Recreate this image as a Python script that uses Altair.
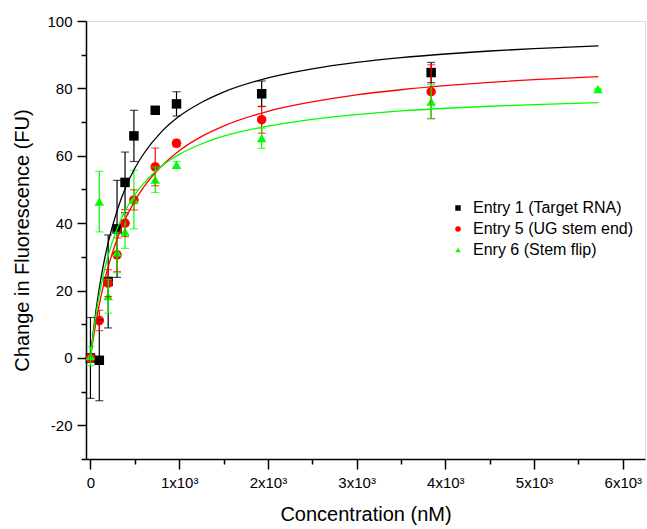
import altair as alt
import pandas as pd

# ---- data ----
series_names = ["\u00a0Entry 1 (Target RNA)", "\u00a0Entry 5 (UG stem end)", "Enry 6 (Stem flip)"]
series_colors = ["#000000", "#FF0000", "#00FF00"]
series_shapes = ["square", "circle", "triangle-up"]

conc = [0, 100, 200, 300, 390, 490, 730, 970, 1930, 3840]
e1 = [0, -0.7, 22.7, 38.3, 52.1, 65.9, 73.5, 75.4, 78.4, 84.7]
e1_err = [12, 12, 13.8, 14.4, 9, 7.6, 1, 3.6, 3.8, 3]
e5 = [0, 11.1, 22.2, 30.6, 40.0, 46.9, 56.7, 63.7, 70.7, 79.0]
e5_err = [1, 3, 4, 5, 4, 3, 5.6, 1, 4, 8]
conc6 = [0, 100, 200, 300, 390, 490, 730, 970, 1930, 3840, 5720]
e6 = [0.5, 46.4, 18.3, 31.3, 37.5, 47.0, 52.9, 57.3, 65.2, 76.1, 79.8]
e6_err = [2.8, 9, 5, 6, 5, 8.7, 3.8, 1, 3, 5, 0]

# fitted curves
fit_x = [0, 50, 100, 150, 200, 300, 400, 500, 600, 800, 1000, 1250, 1500,
         2000, 2500, 3000, 3500, 4000, 4500, 5000, 5725]
fit1 = [0, 11.6, 20.7, 28.1, 34.2, 43.7, 50.8, 56.3, 60.6, 67.1, 71.7, 75.8, 78.9,
        83.1, 85.8, 87.7, 89.1, 90.2, 91.1, 91.8, 92.6]
fit5 = [0, 8.7, 15.9, 21.9, 27.0, 35.2, 41.6, 46.6, 50.7, 56.9, 61.5, 65.7, 68.8,
        73.2, 76.0, 78.1, 79.6, 80.8, 81.8, 82.6, 83.5]
fit6 = [0, 10.6, 18.8, 25.2, 30.4, 38.3, 44.1, 48.4, 51.8, 56.9, 60.4, 63.5, 65.8,
        68.8, 70.8, 72.2, 73.3, 74.1, 74.7, 75.2, 75.8]

x_ticks = [0, 1000, 2000, 3000, 4000, 5000, 6000]
x_minor = [500, 1500, 2500, 3500, 4500, 5500]
y_ticks = [-20, 0, 20, 40, 60, 80, 100]
y_minor = [-30, -10, 10, 30, 50, 70, 90]

# ---- tables ----
rows = []
for k, (name, xs, ys, es) in enumerate([(series_names[0], conc, e1, e1_err),
                                        (series_names[1], conc, e5, e5_err),
                                        (series_names[2], conc6, e6, e6_err)]):
    for x, y, e in zip(xs, ys, es):
        rows.append({"series": name, "order": k, "x": x, "y": y, "lo": y - e, "hi": y + e})
pts = pd.DataFrame(rows)

fit_rows = []
for name, ys in zip(series_names, [fit1, fit5, fit6]):
    for x, y in zip(fit_x, ys):
        fit_rows.append({"series": name, "x": x, "y": y})
fits = pd.DataFrame(fit_rows)

FONT = "Liberation Sans"
xscale = alt.Scale(domain=[-50, 6250], nice=False, zero=False)
yscale = alt.Scale(domain=[-30, 100], nice=False, zero=False)
cscale = alt.Scale(domain=series_names, range=series_colors)
sscale = alt.Scale(domain=series_names, range=series_shapes)

x_axis = alt.Axis(orient="bottom", values=x_ticks, title="Concentration (nM)",
                  labelExpr="datum.value == 0 ? '0' : format(datum.value/1000, 'd') + 'x10\u00b3'",
                  tickSize=10, tickWidth=1.5, domainWidth=1.5, domainColor="black", tickColor="black",
                  labelFontSize=15, labelPadding=6, labelColor="black", labelFont=FONT,
                  titleFontSize=20, titleFont=FONT, titleFontWeight="normal", titleColor="black",
                  titlePadding=14, grid=False, labelFlush=False)
y_axis = alt.Axis(orient="left", values=y_ticks, title="Change in Fluorescence (FU)",
                  labelExpr="datum.value < 0 ? '-' + abs(datum.value) : '' + datum.value",
                  tickSize=9, tickWidth=1.5, domainWidth=1.5, domainColor="black", tickColor="black",
                  labelFontSize=15, labelPadding=5, labelColor="black", labelFont=FONT,
                  titleFontSize=20, titleFont=FONT, titleFontWeight="normal", titleColor="black",
                  titlePadding=14, grid=False, labelFlush=False)
x_axis_minor = alt.Axis(orient="bottom", values=x_minor, labels=False, title=None, domain=False,
                        tickSize=5, tickWidth=1.5, tickColor="black", grid=False)
y_axis_minor = alt.Axis(orient="left", values=y_minor, labels=False, title=None, domain=False,
                        tickSize=5, tickWidth=1.5, tickColor="black", grid=False)

base = alt.Chart(pts)

legend = alt.Legend(title=None, orient="none", legendX=364, legendY=179,
                    symbolSize=30, symbolStrokeWidth=0, labelFontSize=16, labelFont=FONT,
                    labelColor="black", labelOffset=7, rowPadding=5, padding=0, labelLimit=400)

points = base.mark_point(filled=True, size=90, opacity=1).encode(
    x=alt.X("x:Q", scale=xscale, axis=None),
    y=alt.Y("y:Q", scale=yscale, axis=None),
    color=alt.Color("series:N", scale=cscale, legend=legend),
    shape=alt.Shape("series:N", scale=sscale, legend=legend),
    order="order:Q",
)

minor_axes = alt.Chart(pts).mark_point(opacity=0).encode(
    x=alt.X("x:Q", scale=xscale, axis=x_axis_minor),
    y=alt.Y("y:Q", scale=yscale, axis=y_axis_minor),
)

err_rule = base.mark_rule(strokeWidth=1.2).encode(
    x=alt.X("x:Q", scale=xscale, axis=x_axis),
    y=alt.Y("lo:Q", scale=yscale, axis=y_axis),
    y2="hi:Q",
    color=alt.Color("series:N", scale=cscale),
)
cap_lo = base.mark_tick(orient="horizontal", size=8, thickness=1.2).encode(
    x=alt.X("x:Q", scale=xscale, axis=None),
    y=alt.Y("lo:Q", scale=yscale, axis=None),
    color=alt.Color("series:N", scale=cscale),
)
cap_hi = base.mark_tick(orient="horizontal", size=8, thickness=1.2).encode(
    x=alt.X("x:Q", scale=xscale, axis=None),
    y=alt.Y("hi:Q", scale=yscale, axis=None),
    color=alt.Color("series:N", scale=cscale),
)

lines = alt.Chart(fits).mark_line(strokeWidth=1.3, interpolate="monotone").encode(
    x=alt.X("x:Q", scale=xscale, axis=None),
    y=alt.Y("y:Q", scale=yscale, axis=None),
    color=alt.Color("series:N", scale=cscale),
    detail="series:N",
)

chart = alt.layer(points, minor_axes, err_rule, cap_lo, cap_hi, lines).resolve_axis(
    x="independent", y="independent"
).properties(
    width=559, height=438,
    autosize=alt.AutoSizeParams(type="none"),
    padding={"left": 86, "top": 21, "right": 2, "bottom": 70},
).configure_view(stroke=None).configure(font=FONT, background="white")

chart.save("out.html", embed_options={"renderer": "svg", "actions": False})
